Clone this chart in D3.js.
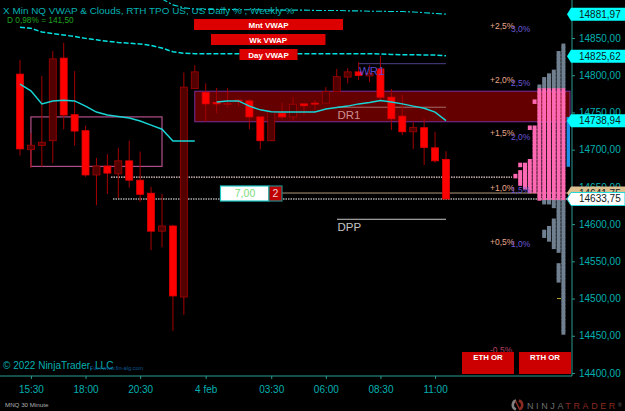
<!DOCTYPE html>
<html>
<head>
<meta charset="utf-8">
<script src="https://cdn.jsdelivr.net/npm/d3@7"></script>
<style>
	html, body { margin: 0; padding: 0; background: #000; overflow: hidden; }
	svg { display: block; font-family: "Liberation Sans", Arial, sans-serif; }
</style>
</head>
<body>
<svg id="chart" width="625" height="411"></svg>
<script>
// 30 minute candles, one entry per bar
const opens = [14801.5, 14700, 14705.5, 14712, 14823, 14747, 14725.5, 14666, 14678, 14667.5, 14685, 14659, 14641.5, 14590.5, 14597.5, 14502, 14782, 14777, 14763.5, 14762, 14766.5, 14765.5, 14744, 14712, 14749, 14744, 14761.5, 14762.5, 14762.5, 14778, 14797.5, 14804.5, 14799, 14808.5, 14770.5, 14745, 14724, 14729.5, 14702.5, 14687]
const highs = [14820.5, 14722.5, 14799, 14832.5, 14843.5, 14805.5, 14732.5, 14689, 14694, 14702.5, 14712, 14697.5, 14650, 14640.5, 14599, 14803.5, 14813.5, 14789, 14783, 14782.5, 14768, 14767.5, 14744, 14752, 14763, 14770.5, 14761.5, 14766.5, 14784, 14808.5, 14809.5, 14817.5, 14813.5, 14826, 14781.5, 14773.5, 14737.5, 14742, 14724, 14698]
const lows = [14692, 14675.5, 14677, 14682, 14727.5, 14705.5, 14663.5, 14625.5, 14640.5, 14635, 14649, 14630, 14565, 14569, 14456.5, 14478, 14781.5, 14737.5, 14749, 14757, 14758.5, 14727.5, 14700.5, 14711.5, 14741, 14739, 14746.5, 14752.5, 14762, 14777.5, 14789, 14793.5, 14790.5, 14766.5, 14726.5, 14719.5, 14701, 14679.5, 14682.5, 14633.75]
const closes = [14701, 14706, 14710, 14822, 14746.5, 14725, 14666, 14678, 14668.5, 14685, 14659, 14640, 14590.5, 14597.5, 14503.5, 14784, 14804.5, 14761.5, 14761.5, 14762, 14765.5, 14744, 14712, 14751, 14744, 14761, 14759, 14761.5, 14778, 14798, 14804.5, 14799.5, 14802.5, 14770.5, 14741.5, 14724, 14730, 14703, 14685, 14633.75]

const dayVwap = [14788, 14779, 14761.5, 14765.5, 14766.5, 14765.5, 14758.5, 14750.5, 14746.5, 14744.5, 14742.5, 14738.5, 14733, 14727.5, 14711.5, 14711.5, 14711.5, null, 14764, 14765.5, 14765.5, 14758.5, 14753.5, 14751, 14750.5, 14750.5, 14750.5, 14750.5, 14754.5, 14756.5, 14758.5, 14761.5, 14763.5, 14766, 14764, 14761.5, 14758.5, 14755.5, 14750.5, 14739]
const weekVwap = [14864.5, 14863, 14858, 14856, 14854, 14852, 14849.5, 14847.5, 14845.5, 14844, 14843, 14842, 14840, 14836.5, 14831.5, 14829.5, 14829, 14829, 14829, 14829, 14829, 14829, 14829, 14829, 14829, 14829, 14829, 14829, 14829, 14829, 14829, 14829, 14829, 14828.5, 14828, 14827.5, 14827.5, 14827, 14827, 14826]
const monthVwap = [null, null, null, null, null, null, null, null, null, null, null, null, null, 14902.5, 14894.5, 14890.5, 14889, 14888.5, 14888.5, 14888.5, 14888, 14888, 14888, 14887.5, 14887.5, 14887.5, 14887.5, 14887, 14887, 14887, 14886.5, 14886.5, 14886, 14886, 14885.5, 14885.5, 14885, 14884, 14883, 14882]

const priceTicks = [14400, 14450, 14500, 14550, 14600, 14650, 14700, 14750, 14800, 14850]
const timeTickBars = [1, 6, 11, 17, 23, 28, 33, 38]
const timeTickLabels = ['15:30', '18:00', '20:30', '4 feb', '03:30', '06:00', '08:30', '11:00']

// TPO profile, number of columns per 5 point row from the top down
const tpoTop = 14842.5
const tpoCounts = [1, 1, 2, 2, 2, 2, 2, 3, 4, 5, 5, 6, 6, 6, 6, 7, 6, 6, 6, 6, 6, 6, 8, 7, 7, 7, 7, 7, 7, 7, 7, 8, 10, 9, 10, 11, 10, 10, 9, 8, 6, 6, 5, 3, 2, 2, 2, 3, 3, 4, 5, 5, 4, 3, 3, 2, 1, 1, 1, 2, 2, 2, 2, 2, 1, 1, 1, 1, 1, 1, 1, 1, 1, 1, 1, 1, 1, 1]
const valueAreaHigh = 14785
const valueAreaLow = 14633.75

const dayPctLabels = ['+2,5%', '+2,0%', '+1,5%', '+1,0%', '+0,5%', '-0,5%']
const dayPctPrices = [14866, 14794, 14722.5, 14649, 14576.5, 14431]
const weekPctLabels = ['3,0%', '2,5%', '2,0%', '1,5%', '1,0%']
const weekPctPrices = [14862, 14789.5, 14717.5, 14646, 14573]

const flagPrices = [14881.97, 14825.62, 14738.94, 14641.75]
const lastPrice = 14633.75

const svg = d3.select('#chart')
const teal = '#00b0b0'
const comma = d => d.toFixed(2).replace('.', ',')

const x = d3.scaleLinear().domain([0, 39]).range([20, 446])
const y = d3.scaleLinear().domain([14400, 14850]).range([373, 38])

svg.append('rect').attr('width', 625).attr('height', 411).attr('fill', '#000')

// DR1 zone goes under the candles
svg.append('rect')
	.attr('x', x(16)).attr('y', y(14778.5))
	.attr('width', 570 - x(16)).attr('height', y(14737.5) - y(14778.5))
	.attr('fill', '#640000').attr('stroke', '#7a2e9c').attr('stroke-width', 1)

// pink box
svg.append('rect')
	.attr('x', x(1)).attr('y', y(14744))
	.attr('width', x(13) - x(1)).attr('height', y(14677.5) - y(14744))
	.attr('fill', 'none').attr('stroke', '#b0508a').attr('stroke-width', 1.2)

// level lines
const levels = [
	{ price: 14815.5, from: 359, to: 446, color: '#4a3f8a' },
	{ price: 14757, from: 337, to: 446, color: '#a86a6a' },
	{ price: 14606.5, from: 337, to: 446, color: '#c8c8c8' },
	{ price: 14641.75, from: 270, to: 570, color: '#b09a7a' }
]
svg.selectAll('line.level').data(levels).join('line')
	.attr('class', 'level')
	.attr('x1', d => d.from).attr('x2', d => d.to)
	.attr('y1', d => y(d.price)).attr('y2', d => y(d.price))
	.attr('stroke', d => d.color)

svg.append('line').attr('x1', 111).attr('x2', 512)
	.attr('y1', y(14663.25)).attr('y2', y(14663.25))
	.attr('stroke', '#ecd0d0').attr('stroke-width', 1.2).attr('stroke-dasharray', '1.5,1')
svg.append('line').attr('x1', 113).attr('x2', 567)
	.attr('y1', y(lastPrice)).attr('y2', y(lastPrice))
	.attr('stroke', '#fff').attr('stroke-width', 1.2).attr('stroke-dasharray', '1.5,1')

// candles
const candles = svg.append('g').selectAll('g').data(opens).join('g')
candles.append('line')
	.attr('x1', (d, i) => x(i)).attr('x2', (d, i) => x(i))
	.attr('y1', (d, i) => y(highs[i])).attr('y2', (d, i) => y(lows[i]))
	.attr('stroke', '#a50000').attr('stroke-width', 1)
candles.append('rect')
	.attr('x', (d, i) => x(i) - 3.5).attr('width', 7)
	.attr('y', (d, i) => y(Math.max(opens[i], closes[i])))
	.attr('height', (d, i) => Math.max(1, Math.abs(y(opens[i]) - y(closes[i]))))
	.attr('fill', (d, i) => closes[i] < opens[i] ? '#ff0000' : '#520000')
	.attr('stroke', (d, i) => closes[i] < opens[i] ? '#e00000' : '#a50000')
	.attr('stroke-width', .8)

// vwap lines
const vwapLine = d3.line().defined(d => d !== null).x((d, i) => x(i)).y(d => y(d))
svg.append('path').attr('d', vwapLine(monthVwap)).attr('fill', 'none')
	.attr('stroke', '#00d8d8').attr('stroke-width', 1.1).attr('stroke-dasharray', '6,2,2,2')
svg.append('path').attr('d', vwapLine(weekVwap)).attr('fill', 'none')
	.attr('stroke', '#00e0e0').attr('stroke-width', 1.5).attr('stroke-dasharray', '5,2')
svg.append('path').attr('d', vwapLine(dayVwap)).attr('fill', 'none')
	.attr('stroke', '#18d4d4').attr('stroke-width', 1.5)

// TPO profile
const colX = d3.scaleLinear().domain([0, 11]).range([561.4, 508.6])
const rows = tpoCounts.flatMap((c, k) => d3.range(c).map(col => ({ price: tpoTop - k * 5, col })))
svg.append('g').selectAll('rect').data(rows).join('rect')
	.attr('x', d => colX(d.col)).attr('width', 4)
	.attr('y', d => y(d.price)).attr('height', y(14400) - y(14405) + .8)
	.attr('fill', d => d.price <= valueAreaHigh && d.price > valueAreaLow ? '#ff69b4' : '#708090')
svg.append('line').attr('x1', 557).attr('x2', 561).attr('y1', y(14500)).attr('y2', y(14500)).attr('stroke', '#b8b020')

// blue range bar next to the axis
svg.append('rect').attr('x', 566.6).attr('width', 3.4)
	.attr('y', y(14744)).attr('height', y(14677) - y(14744)).attr('fill', '#1e8fe8')

// axes
const yAxis = d3.axisRight(y).tickValues(priceTicks).tickFormat(comma).tickSize(3).tickPadding(4)
const xAxis = d3.axisBottom(x).tickValues(timeTickBars).tickFormat((d, i) => timeTickLabels[i]).tickSize(3).tickPadding(7)

const yG = svg.append('g').attr('transform', 'translate(572,0)').call(yAxis)
yG.select('.domain').remove()
yG.selectAll('text').attr('fill', teal).attr('font-size', 10).attr('font-family', 'inherit')
yG.selectAll('line').attr('stroke', '#2a9a90')

const xG = svg.append('g').attr('transform', 'translate(0,376)').call(xAxis)
xG.select('.domain').remove()
xG.selectAll('text').attr('fill', teal).attr('font-size', 10).attr('font-family', 'inherit')
xG.selectAll('line').attr('stroke', '#2a9a90')

svg.append('line').attr('x1', 572).attr('x2', 572).attr('y1', 0).attr('y2', 376).attr('stroke', '#2a9a90')
svg.append('line').attr('x1', 0).attr('x2', 572).attr('y1', 376).attr('y2', 376).attr('stroke', '#2a9a90')

// percent labels
svg.selectAll('text.dayPct').data(dayPctLabels).join('text')
	.attr('class', 'dayPct').text(d => d)
	.attr('x', 490).attr('y', (d, i) => y(dayPctPrices[i])).attr('dy', '.35em')
	.attr('font-size', 8.5).attr('fill', (d, i) => i === 5 ? '#b04060' : '#e8a88c')
svg.selectAll('text.weekPct').data(weekPctLabels).join('text')
	.attr('class', 'weekPct').text(d => d)
	.attr('x', 511).attr('y', (d, i) => y(weekPctPrices[i])).attr('dy', '.35em')
	.attr('font-size', 8.5).attr('fill', '#6a58d8')

// level names
const addText = (str, tx, ty, size, color, extra) => svg.append('text')
	.text(str).attr('x', tx).attr('y', ty).attr('font-size', size).attr('fill', color)
	.attr('font-weight', extra || 'normal')

addText('WR1', 359, 74.5, 11.5, '#5548c8')
addText('DR1', 337.5, 119, 11.5, '#cc9090')
addText('DPP', 337.5, 231, 11.5, '#c4c4c4')

// buttons
const buttons = [
	{ label: 'Mnt VWAP', x0: 194, x1: 343, y0: 19, y1: 30, c: '#dc0000', ty: 27.5, size: 8 },
	{ label: 'Wk VWAP', x0: 211, x1: 325.5, y0: 34, y1: 45, c: '#dc0000', ty: 42.5, size: 8 },
	{ label: 'Day VWAP', x0: 239.5, x1: 297.5, y0: 49, y1: 60, c: '#dc0000', ty: 57.5, size: 8 },
	{ label: 'ETH OR', x0: 462, x1: 514, y0: 352, y1: 374, c: '#cc0000', ty: 359.5, size: 7.8 },
	{ label: 'RTH OR', x0: 519, x1: 571, y0: 352, y1: 374, c: '#cc0000', ty: 359.5, size: 7.8 }
]
const btn = svg.append('g').selectAll('g').data(buttons).join('g')
btn.append('rect')
	.attr('x', d => d.x0).attr('y', d => d.y0)
	.attr('width', d => d.x1 - d.x0).attr('height', d => d.y1 - d.y0)
	.attr('fill', d => d.c)
btn.append('text').text(d => d.label)
	.attr('x', d => (d.x0 + d.x1) / 2).attr('y', d => d.ty)
	.attr('text-anchor', 'middle').attr('font-size', d => d.size).attr('font-weight', 'bold').attr('fill', '#fff')

// order box
svg.append('rect').attr('x', 220.5).attr('y', 186).attr('width', 48.5).attr('height', 15)
	.attr('fill', '#fff').attr('stroke', '#20c8c8').attr('stroke-width', 1.2)
svg.append('rect').attr('x', 269).attr('y', 186).attr('width', 13).attr('height', 15)
	.attr('fill', '#c00000').attr('stroke', '#208888').attr('stroke-width', 1.2)
addText('7,00', 245, 197, 10.5, '#7cdc7c').attr('text-anchor', 'middle')
addText('2', 275.5, 197, 10.5, '#f0d0d0').attr('text-anchor', 'middle')

// price flags
const flagPath = p => {
	const c = y(p)
	return `M567,${c} L571,${c - 6.5} L625,${c - 6.5} L625,${c + 6.5} L571,${c + 6.5} Z`
}
const flags = svg.append('g').selectAll('g').data(flagPrices).join('g')
flags.append('path').attr('d', flagPath)
	.attr('fill', (d, i) => i === 3 ? '#dcc090' : '#00ffff')
flags.append('text').text(comma)
	.attr('x', 579).attr('y', d => y(d)).attr('dy', '.35em')
	.attr('font-size', 10).attr('fill', '#102020')

svg.append('path').attr('d', flagPath(lastPrice)).attr('fill', '#fff').attr('stroke', '#20d8d8').attr('stroke-width', 1)
addText(comma(lastPrice), 579, y(lastPrice) + 3.5, 10, '#102020')

// captions
addText('X Min NQ VWAP & Clouds, RTH TPO US, US Daily % , Weekly %', 3, 13.5, 9.95, teal)
addText('D 0,98% = 141,50', 7, 22.5, 8.3, '#1fa01f')
addText('© 2022 NinjaTrader, LLC', 3, 369, 10, teal)
addText('Fuel  www.fin-alg.com', 90, 370, 5.6, '#0a5a98')
addText('MNQ 30 Minute', 5, 407, 6.2, '#b0b0b0')

// logo
const logo = svg.append('g').attr('transform', 'translate(517.5,405)')
const arc = d3.arc().innerRadius(3.5).outerRadius(6)
logo.append('path').attr('d', arc({ startAngle: -2.8, endAngle: -.3 })).attr('fill', '#808080')
logo.append('path').attr('d', arc({ startAngle: .3, endAngle: 2.8 })).attr('fill', '#8a2a20')
logo.append('line').attr('x1', -2).attr('x2', 2).attr('y1', -4).attr('y2', 4).attr('stroke', '#8a2a20').attr('stroke-width', 1.5)

const brand = addText('', 527, 408.5, 9, '#6e6e6e').attr('letter-spacing', 2.6)
brand.append('tspan').text('NINJA')
brand.append('tspan').text('TRADER').attr('fill', '#8a2a20')
brand.append('tspan').text('®').attr('font-size', 5).attr('dy', -2)
</script>
</body>
</html>
